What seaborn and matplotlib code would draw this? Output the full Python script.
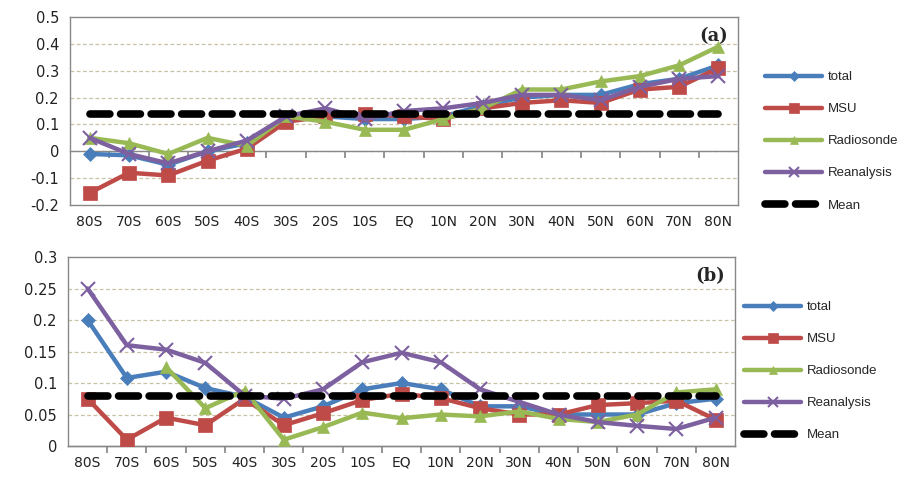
import numpy as np
import pandas as pd
import matplotlib
matplotlib.use("Agg")
import matplotlib.pyplot as plt
import seaborn as sns

# Latitude bands
lats = ["80S", "70S", "60S", "50S", "40S", "30S", "20S", "10S", "EQ",
        "10N", "20N", "30N", "40N", "50N", "60N", "70N", "80N"]

# Panel (a) series
a_total = [-0.01, -0.015, -0.05, 0.0, 0.03, 0.12, 0.13, 0.12, 0.12,
           0.13, 0.17, 0.20, 0.21, 0.21, 0.25, 0.27, 0.32]
a_msu = [-0.155, -0.08, -0.09, -0.035, 0.01, 0.11, 0.13, 0.14, 0.13,
         0.12, 0.16, 0.18, 0.19, 0.18, 0.23, 0.24, 0.31]
a_radiosonde = [0.05, 0.03, -0.01, 0.05, 0.02, 0.13, 0.11, 0.08, 0.08,
                0.12, 0.16, 0.23, 0.23, 0.26, 0.28, 0.32, 0.39]
a_reanalysis = [0.05, -0.01, -0.045, 0.0, 0.04, 0.13, 0.16, 0.12, 0.15,
                0.16, 0.18, 0.21, 0.21, 0.19, 0.24, 0.27, 0.28]
a_mean = 0.14

# Panel (b) series
b_total = [0.20, 0.108, 0.118, 0.092, 0.078, 0.045, 0.063, 0.09, 0.10,
           0.09, 0.063, 0.063, 0.05, 0.05, 0.05, 0.068, 0.075]
b_msu = [0.075, 0.01, 0.045, 0.033, 0.075, 0.033, 0.052, 0.073, 0.083,
         0.076, 0.06, 0.05, 0.05, 0.065, 0.068, 0.072, 0.042]
b_radiosonde = [np.nan, np.nan, 0.125, 0.06, 0.088, 0.01, 0.03, 0.053, 0.044,
                0.05, 0.047, 0.055, 0.043, 0.038, 0.05, 0.085, 0.09]
b_reanalysis = [0.25, 0.16, 0.153, 0.132, 0.08, 0.075, 0.09, 0.133, 0.148,
                0.133, 0.09, 0.07, 0.05, 0.038, 0.032, 0.027, 0.045]
b_mean = 0.08

series = ["total", "MSU", "Radiosonde", "Reanalysis"]
palette = {"total": "#4a7ebb", "MSU": "#be4b48",
           "Radiosonde": "#98b954", "Reanalysis": "#7d60a0"}
markers = {"total": "D", "MSU": "s", "Radiosonde": "^", "Reanalysis": "x"}
msizes = {"total": 7, "MSU": 9.5, "Radiosonde": 9, "Reanalysis": 10}

sns.set_theme(style="white")
plt.rcParams["font.family"] = ["DejaVu Sans"]

fig = plt.figure(figsize=(9.09, 4.82), dpi=100)
ax_a = fig.add_axes([0.077, 0.5747, 0.735, 0.39])
ax_b = fig.add_axes([0.0748, 0.0747, 0.734, 0.392])


def build_frame(vals, mean):
    rows = []
    for name, v in zip(series, vals):
        for i, y in enumerate(v):
            rows.append({"x": i, "value": y, "series": name})
    for i in range(len(lats)):
        rows.append({"x": i, "value": mean, "series": "Mean"})
    return pd.DataFrame(rows)


def draw_panel(ax, df, ylim, yticks, ytick_labels, zero_frac, tag, legend_anchor):
    grid_c = "#c9c3a6"
    for yt in yticks[1:-1]:
        ax.axhline(yt, color=grid_c, lw=0.9, ls=(0, (3, 2)), zorder=0)
    for name in series:
        sub = df[df["series"] == name].dropna()
        sns.lineplot(data=sub, x="x", y="value", ax=ax, color=palette[name],
                     lw=3.2, marker=markers[name], markersize=msizes[name],
                     markeredgecolor=palette[name],
                     markeredgewidth=1.5 if name == "Reanalysis" else 0.5,
                     label=name, sort=False, zorder=3)
    mean_df = df[df["series"] == "Mean"]
    sns.lineplot(data=mean_df, x="x", y="value", ax=ax, color="black",
                 lw=5.5, ls=(0, (2.6, 1.4)), label="Mean", zorder=4,
                 dash_capstyle="round")
    ax.set_xlim(-0.5, len(lats) - 0.5)
    ax.set_ylim(*ylim)
    ax.set_yticks(yticks)
    ax.set_yticklabels(ytick_labels, fontsize=10.5, color="#222222")
    ax.set_xticks(range(len(lats)))
    ax.set_xticklabels(lats, fontsize=10, color="#222222")
    ax.tick_params(axis="x", length=0, pad=7)
    ax.tick_params(axis="y", length=0, pad=8)
    ax.set_xlabel("")
    ax.set_ylabel("")
    for s in ax.spines.values():
        s.set_color("#888888")
        s.set_linewidth(1.0)
    # category axis with tick marks between bands
    sec = ax.secondary_xaxis(zero_frac)
    sec.set_xticks(np.arange(0.5, len(lats) - 1, 1.0))
    sec.tick_params(axis="x", direction="out", length=5, color="#888888",
                    labelbottom=False, labeltop=False, bottom=True, top=False)
    sec.spines["bottom"].set_color("#888888")
    sec.spines["bottom"].set_linewidth(1.0)
    ax.text(0.985, 0.9, tag, transform=ax.transAxes, ha="right", va="center",
            fontsize=13, fontweight="bold", family="DejaVu Serif")
    handles, labels = ax.get_legend_handles_labels()
    ax.legend(handles, labels, loc="upper left", bbox_to_anchor=legend_anchor,
              frameon=False, handlelength=4.3, handletextpad=0.45,
              labelspacing=1.5, markerscale=0.7, borderaxespad=0,
              prop={"family": "Liberation Sans", "size": 9.5})


df_a = build_frame([a_total, a_msu, a_radiosonde, a_reanalysis], a_mean)
draw_panel(ax_a, df_a, (-0.2, 0.5),
           [-0.2, -0.1, 0.0, 0.1, 0.2, 0.3, 0.4, 0.5],
           ["-0.2", "-0.1", "0", "0.1", "0.2", "0.3", "0.4", "0.5"],
           0.2 / 0.7, "(a)", (1.033, 0.74))

df_b = build_frame([b_total, b_msu, b_radiosonde, b_reanalysis], b_mean)
draw_panel(ax_b, df_b, (0.0, 0.3),
           [0.0, 0.05, 0.1, 0.15, 0.2, 0.25, 0.3],
           ["0", "0.05", "0.1", "0.15", "0.2", "0.25", "0.3"],
           0.0, "(b)", (1.006, 0.795))

fig.savefig("out.png", dpi=100)
